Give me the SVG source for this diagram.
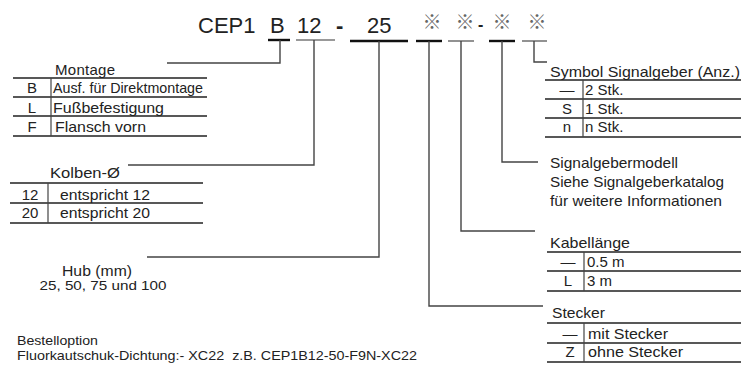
<svg xmlns="http://www.w3.org/2000/svg" width="741" height="366" viewBox="0 0 741 366">
<style>
text{font-family:"Liberation Sans",Arial,sans-serif;fill:#222}
.h{font-size:22px}
.t{font-size:15px}
.s{font-size:13px}
.k{font-family:"Noto Sans CJK JP","DejaVu Sans",sans-serif;font-size:19px;fill:#666}
.c{text-anchor:middle}
.ln{stroke:#222;stroke-width:1.3;fill:none}
.sep{stroke:#444;stroke-width:1.2}
.bk{stroke:#111;stroke-width:2.4}
.gy{stroke:#777;stroke-width:1.6}
.cn{stroke:#444;stroke-width:1.4;fill:none}
</style>
<g id="code">
<text class="h" x="198" y="33">CEP1</text>
<text class="h" x="270" y="33">B</text>
<text class="h" x="297" y="33">12</text>
<text class="h" x="336" y="33" font-weight="bold">-</text>
<text class="h" x="367" y="33">25</text>
<text class="k c" x="432" y="29">※</text>
<text class="k c" x="465" y="29">※</text>
<text x="478" y="30" font-size="16" font-weight="bold">-</text>
<text class="k c" x="502" y="29">※</text>
<text class="k c" x="537" y="29">※</text>
</g>
<g id="connectors">
<line class="bk" x1="268" y1="40" x2="290" y2="40"/>
<path class="cn" d="M280,40 V63 H167"/>
<line class="gy" x1="296" y1="40" x2="335" y2="40"/>
<path class="cn" d="M314,40 V165 H128"/>
<line class="bk" x1="350" y1="41" x2="408" y2="41"/>
<path class="cn" d="M379,41 V257 H147"/>
<line class="bk" x1="416" y1="41" x2="442" y2="41"/>
<path class="cn" d="M429,41 V306 H543"/>
<line class="gy" x1="448" y1="41" x2="474" y2="41"/>
<path class="cn" d="M461,41 V231 H535"/>
<line class="bk" x1="489" y1="41" x2="515" y2="41"/>
<path class="cn" d="M502,41 V162 H538"/>
<line class="gy" x1="522" y1="41" x2="547" y2="41"/>
<path class="cn" d="M534,41 V62 H547"/>
</g>
<g id="montage">
<text class="t" x="55" y="75" textLength="60">Montage</text>
<path class="ln" d="M13,78 H207 M13,97 H207 M13,116 H207 M13,136 H207"/>
<line class="sep" x1="51" y1="78" x2="51" y2="136"/>
<text class="t c" x="32" y="93">B</text>
<text class="t" x="53" y="93" textLength="150" lengthAdjust="spacingAndGlyphs">Ausf. für Direktmontage</text>
<text class="t c" x="32" y="113">L</text>
<text class="t" x="53" y="113" textLength="111" lengthAdjust="spacingAndGlyphs">Fußbefestigung</text>
<text class="t c" x="32" y="132">F</text>
<text class="t" x="55" y="132" textLength="91" lengthAdjust="spacingAndGlyphs">Flansch vorn</text>
</g>
<g id="kolben">
<text class="t" x="50" y="178" textLength="70" lengthAdjust="spacingAndGlyphs">Kolben-Ø</text>
<path class="ln" d="M10,183 H203 M10,203 H203 M10,223 H203"/>
<line class="sep" x1="48" y1="183" x2="48" y2="223"/>
<text class="t c" x="30" y="200">12</text>
<text class="t" x="60" y="200" textLength="90" lengthAdjust="spacingAndGlyphs">entspricht 12</text>
<text class="t c" x="30" y="218">20</text>
<text class="t" x="60" y="218" textLength="90" lengthAdjust="spacingAndGlyphs">entspricht 20</text>
</g>
<g id="hub">
<text class="t c" x="97" y="276" textLength="70" lengthAdjust="spacingAndGlyphs">Hub (mm)</text>
<text class="s c" x="103" y="290" textLength="127" lengthAdjust="spacingAndGlyphs">25, 50, 75 und 100</text>
</g>
<g id="signalgeber">
<text class="t" x="550" y="77" textLength="190" lengthAdjust="spacingAndGlyphs">Symbol Signalgeber (Anz.)</text>
<path class="ln" d="M545,80 H741 M545,99 H741 M545,118 H741 M545,137 H741"/>
<line class="sep" x1="583" y1="80" x2="583" y2="137"/>
<text class="t c" x="567" y="95">—</text>
<text class="t" x="585" y="95">2 Stk.</text>
<text class="t c" x="567" y="114">S</text>
<text class="t" x="585" y="114">1 Stk.</text>
<text class="t c" x="567" y="132">n</text>
<text class="t" x="585" y="132">n Stk.</text>
</g>
<g id="signalgebermodell">
<text class="t" x="550" y="168" textLength="128" lengthAdjust="spacingAndGlyphs">Signalgebermodell</text>
<text class="t" x="550" y="187" textLength="174" lengthAdjust="spacingAndGlyphs">Siehe Signalgeberkatalog</text>
<text class="t" x="550" y="206" textLength="172" lengthAdjust="spacingAndGlyphs">für weitere Informationen</text>
</g>
<g id="kabel">
<text class="t" x="550" y="248" textLength="80" lengthAdjust="spacingAndGlyphs">Kabellänge</text>
<path class="ln" d="M547,252 H741 M547,271 H741 M547,291 H741"/>
<line class="sep" x1="584" y1="252" x2="584" y2="291"/>
<text class="t c" x="568" y="267">—</text>
<text class="t" x="587" y="267">0.5 m</text>
<text class="t c" x="568" y="286">L</text>
<text class="t" x="587" y="286">3 m</text>
</g>
<g id="stecker">
<text class="t" x="552" y="318" textLength="53" lengthAdjust="spacingAndGlyphs">Stecker</text>
<path class="ln" d="M547,323 H741 M547,343 H741 M547,362 H741"/>
<line class="sep" x1="584" y1="323" x2="584" y2="362"/>
<text class="t c" x="570" y="339">—</text>
<text class="t" x="588" y="339" textLength="80" lengthAdjust="spacingAndGlyphs">mit Stecker</text>
<text class="t c" x="570" y="357">Z</text>
<text class="t" x="588" y="357" textLength="95" lengthAdjust="spacingAndGlyphs">ohne Stecker</text>
</g>
<g id="bestelloption">
<text class="s" x="17" y="345" textLength="81" lengthAdjust="spacingAndGlyphs">Bestelloption</text>
<text class="s" x="17" y="360" xml:space="preserve" textLength="400" lengthAdjust="spacingAndGlyphs">Fluorkautschuk-Dichtung:- XC22  z.B. CEP1B12-50-F9N-XC22</text>
</g>
</svg>
